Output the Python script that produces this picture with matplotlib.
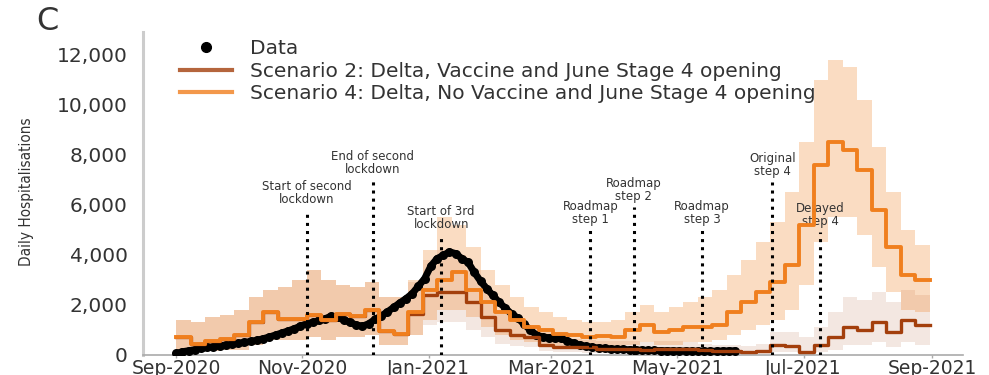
import numpy as np
import pandas as pd
import matplotlib
matplotlib.use('Agg')
import matplotlib.pyplot as plt
from matplotlib.lines import Line2D
from matplotlib.ticker import FuncFormatter

# ============ Du lieu ============
# Moi tuan mot gia tri, bat dau 01/09/2020
week_start = pd.date_range('2020-09-01', periods=52, freq='7D')

# Scenario 4: Delta, khong vaccine
sc4_mid = [700, 450, 550, 650, 800, 1300, 1700, 1450, 1450, 1600,
           1400, 1650, 1550, 1800, 950, 850, 1700, 2600, 3000, 3300,
           2600, 2100, 1700, 1400, 1100, 1000, 850, 800, 700, 750,
           700, 1000, 1200, 900, 1000, 1100, 1100, 1200, 1700, 2100,
           2500, 2900, 3600, 5200, 7600, 8500, 8200, 7400, 5800, 4300,
           3200, 3000]
sc4_hi = [1400, 1300, 1500, 1600, 1800, 2300, 2600, 2700, 3000, 3400,
          3000, 2800, 2700, 2900, 2300, 2300, 3000, 4200, 5500, 5200,
          4300, 3400, 2800, 2300, 1900, 1700, 1500, 1400, 1300, 1300,
          1400, 1700, 2000, 1700, 1900, 2100, 2300, 2600, 3200, 3800,
          4500, 5300, 6500, 8500, 11000, 11800, 11500, 10200, 8300, 6500,
          5000, 4400]
sc4_lo = [100, 150, 150, 200, 200, 400, 600, 600, 600, 700,
          600, 700, 700, 800, 400, 400, 800, 1400, 1800, 1800,
          1500, 1100, 800, 600, 500, 400, 350, 300, 300, 300,
          300, 400, 500, 400, 400, 500, 500, 600, 800, 1000,
          1200, 1400, 1800, 2800, 4500, 5500, 5500, 4800, 3500, 2500,
          1800, 1700]

# Scenario 2: Delta, co vaccine
sc2_mid = [700, 450, 550, 650, 800, 1300, 1700, 1450, 1450, 1600,
           1400, 1650, 1550, 1800, 950, 850, 1650, 2400, 2500, 2500,
           2100, 1500, 1000, 800, 700, 400, 300, 300, 300, 250,
           250, 250, 200, 250, 250, 250, 200, 150, 150, 100,
           150, 400, 350, 100, 400, 700, 1100, 1000, 1300, 900,
           1400, 1200]
sc2_hi = [1400, 1300, 1500, 1600, 1800, 2300, 2600, 2700, 3000, 3400,
          3000, 2800, 2700, 2900, 2300, 2300, 2900, 3800, 4200, 4000,
          3400, 2500, 1800, 1400, 1200, 900, 700, 650, 600, 550,
          550, 550, 500, 550, 550, 500, 450, 400, 400, 350,
          450, 900, 900, 700, 1100, 1700, 2300, 2200, 2500, 2100,
          2600, 2400]
sc2_lo = [100, 150, 150, 200, 200, 400, 600, 600, 600, 700,
          600, 700, 700, 800, 400, 400, 800, 1200, 1300, 1300,
          1000, 700, 450, 350, 300, 150, 100, 100, 80, 80,
          80, 80, 60, 80, 80, 60, 50, 50, 50, 40,
          50, 100, 100, 0, 100, 200, 400, 400, 500, 300,
          500, 400]

# So lieu nhap vien thuc te, moi 3 ngay mot diem
data_dates = pd.date_range('2020-09-01', periods=91, freq='3D')
data_vals = [60, 130, 170, 210, 260, 300, 330, 360, 400, 430,
             470, 500, 540, 590, 650, 720, 800, 880, 960, 1050,
             1150, 1250, 1300, 1380, 1450, 1560, 1500, 1400, 1300, 1200,
             1150, 1250, 1420, 1560, 1720, 1900, 2080, 2250, 2450, 2750,
             3050, 3550, 3850, 3980, 4120, 4050, 3850, 3700, 3300, 2950,
             2650, 2380, 2100, 1870, 1640, 1480, 1230, 1000, 800, 720,
             690, 680, 660, 560, 470, 400, 340, 310, 280, 260,
             240, 230, 220, 210, 200, 190, 185, 180, 175, 170,
             165, 160, 160, 155, 150, 150, 150, 155, 160, 165,
             170]

# Cac moc chinh sach
event_dates = ['2020-11-03', '2020-12-05', '2021-01-07', '2021-03-20',
               '2021-04-10', '2021-05-13', '2021-06-16', '2021-07-09']
event_tops = [5800, 7000, 4800, 5000, 5900, 5000, 6900, 4900]
event_labels = ['Start of second\nlockdown', 'End of second\nlockdown',
                'Start of 3rd\nlockdown', 'Roadmap\nstep 1',
                'Roadmap\nstep 2', 'Roadmap\nstep 3',
                'Original\nstep 4', 'Delayed\nstep 4']

C2 = '#a33f0c'
C4 = '#f07f1e'
TXT = '#333333'

# ============ Ve ============
fig = plt.figure(figsize=(9.89, 3.75), dpi=100)
ax = fig.add_axes([143/989, 1 - 355/375, (963 - 143)/989, (355 - 32)/375])

# ve dang bac thang: them diem cuoi de buoc cuoi cung co do dai 1 tuan
x_step = week_start.append(pd.DatetimeIndex([week_start[-1] + pd.Timedelta(days=7)]))

def steps(v):
    return np.append(v, v[-1])

ax.fill_between(x_step, steps(sc2_lo), steps(sc2_hi), step='post',
                color=C2, alpha=0.12, lw=0)
ax.fill_between(x_step, steps(sc4_lo), steps(sc4_hi), step='post',
                color=C4, alpha=0.27, lw=0)

# cham du lieu day dac -> noi them mot net dam phia duoi
ax.plot(data_dates, data_vals, '-', color='k', lw=5, zorder=3,
        solid_capstyle='round')
ax.plot(data_dates, data_vals, 'o', color='k', ms=6.5, mew=0, zorder=3)

# net scenario 2 manh hon mot chut de khong lo vien nau duoi net cam
ax.step(x_step, steps(sc2_mid), where='post', color=C2, lw=2.4, zorder=4)
ax.step(x_step, steps(sc4_mid), where='post', color=C4, lw=2.8, zorder=4)

for d, top, lab in zip(event_dates, event_tops, event_labels):
    d = pd.Timestamp(d)
    ax.plot([d, d], [0, top], ls=':', color='k', lw=2.2, zorder=5)
    ax.annotate(lab, (d, top), xytext=(0, 3), textcoords='offset points',
                ha='center', va='bottom', fontsize=8.5, color=TXT,
                linespacing=1.0)

ax.set_xlim(pd.Timestamp('2020-08-16'), pd.Timestamp('2021-09-16'))
ax.set_ylim(0, 12900)
ax.set_yticks(range(0, 12001, 2000))
ax.yaxis.set_major_formatter(FuncFormatter(lambda v, p: f'{v:,.0f}'))
ticks = pd.date_range('2020-09-01', '2021-09-01', freq='2MS')
ax.set_xticks(ticks)
ax.set_xticklabels([t.strftime('%b-%Y') for t in ticks])

for s in ['top', 'right']:
    ax.spines[s].set_visible(False)
ax.spines['left'].set_color('#cccccc')
ax.spines['left'].set_linewidth(2.2)
ax.spines['bottom'].set_color('#aaaaaa')
ax.spines['bottom'].set_linewidth(1.2)
ax.tick_params(axis='y', length=0, pad=11, labelsize=14.5, labelcolor=TXT)
ax.tick_params(axis='x', length=2, width=1, color='#aaaaaa', pad=1,
               labelsize=13.5, labelcolor=TXT)

fig.text(27/989, 1 - 192/375, 'Daily Hospitalisations', rotation=90,
         ha='center', va='center', fontsize=11, color=TXT,
         family='DejaVu Sans', fontstretch='condensed')
fig.text(36/989, 1 - 21/375, 'C', ha='left', va='center', fontsize=23,
         color=TXT)

handles = [Line2D([], [], marker='o', ls='none', color='k', ms=7),
           Line2D([], [], color=C2, lw=3, alpha=0.8),
           Line2D([], [], color=C4, lw=3, alpha=0.8)]
labels = ['Data',
          'Scenario 2: Delta, Vaccine and June Stage 4 opening',
          'Scenario 4: Delta, No Vaccine and June Stage 4 opening']
fig.legend(handles, labels, loc='upper left',
           bbox_to_anchor=(180/989, 1 - 39/375), frameon=False,
           fontsize=14.5, handlelength=2.6, handletextpad=0.9,
           labelspacing=0.18, borderpad=0, borderaxespad=0,
           labelcolor=TXT)

fig.savefig('out.png', dpi=100)
